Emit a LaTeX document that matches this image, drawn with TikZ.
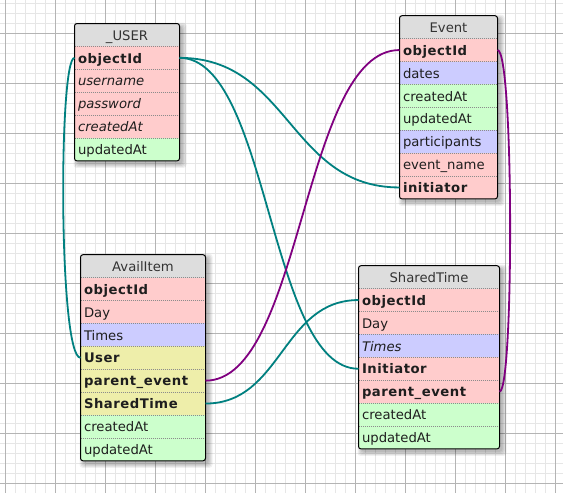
\documentclass[tikz,border=0pt]{standalone}
\usepackage{fontspec}
\setmainfont{DejaVu Sans}
\newfontface\bfface[LetterSpace=4]{DejaVu Sans Bold}
\usetikzlibrary{calc}
\definecolor{gminorc}{HTML}{E6E6E6}
\definecolor{gmajorc}{HTML}{B4B4B4}
\definecolor{hdrc}{HTML}{DDDDDD}
\definecolor{pkc}{HTML}{FFCCCC}
\definecolor{bluec}{HTML}{CCCCFF}
\definecolor{greenc}{HTML}{CCFFCC}
\definecolor{yelc}{HTML}{EEEEAA}
\definecolor{tealc}{HTML}{008080}
\definecolor{purpc}{HTML}{800080}
\definecolor{txtc}{HTML}{1E1E1E}
\newcommand\rh{22.9}
\newcommand\tabsetup[5]{\def\tn{#1}\def\tx{#2}\def\ty{#3}\def\tw{#4}\pgfmathsetmacro\ttw{#4-7}\pgfmathsetmacro\tbot{#3+(#5+1)*\rh}}
\newcommand\tabshadow{\foreach \r in {0,1,2,3,4}{\fill[black,opacity=0.06,rounded corners=3] ({\tx+3-\r},{\ty+3-\r}) rectangle ({\tx+\tw+3+\r},{\tbot+3+\r});}}
\newcommand\tabhead[1]{\node[hdr] (\tn-0) at (\tx,\ty) {#1};}
\newcommand\dbrow[3]{\node[rowbox,#2] (\tn-#1) at (\tx,{\ty+#1*\rh}) {#3};
  \draw[sepline] (\tn-#1.north west) -- (\tn-#1.north east);}
\newcommand\tabframe{\draw[line width=1pt,rounded corners=2.5,black] (\tx,\ty) rectangle (\tx+\tw,\tbot);}
\tikzset{
  rowbox/.style={anchor=north west, minimum height=\rh pt, text width=\ttw pt,
    inner xsep=3.5pt, inner ysep=0pt, align=left, text height=11.5pt, text depth=1.2pt,
    font=\fontsize{13.2}{15}\selectfont, text=txtc, outer sep=0pt},
  hdr/.style={rowbox, align=center, fill=hdrc, text=black!80},
  pk/.style={fill=pkc}, bl/.style={fill=bluec}, gr/.style={fill=greenc}, ye/.style={fill=yelc},
  bf/.style={font=\fontsize{13.2}{15}\bfface},
  it/.style={font=\fontsize{13.2}{15}\selectfont\itshape},
  sepline/.style={gray!90, line width=0.8pt, dash pattern=on 1pt off 1pt},
  gminor/.style={gminorc, line width=1pt},
  gmajor/.style={gmajorc, line width=1pt},
  tconn/.style={tealc, line width=1.8pt},
  pconn/.style={purpc, line width=1.8pt},
}
\begin{document}
\begin{tikzpicture}[x=1pt,y=-1pt]
\useasboundingbox (0,0) rectangle (563,493);
\fill[white] (0,0) rectangle (563,493);
% grid
\foreach \g in {5,15,...,555} \draw[gminor] (\g,0) -- (\g,493);
\foreach \g in {3,13,...,493} \draw[gminor] (0,\g) -- (563,\g);
\foreach \g in {5,55,...,555} \draw[gmajor] (\g,0) -- (\g,493);
\foreach \g in {33,83,...,483} \draw[gmajor] (0,\g) -- (563,\g);

% _USER
\tabsetup{U}{74.5}{23.5}{105}{5}
\tabshadow
\begin{scope}
\clip[rounded corners=2.5] (\tx,\ty) rectangle (\tx+\tw,\tbot);
\tabhead{\_USER}
\dbrow{1}{pk,bf}{objectId}
\dbrow{2}{pk,it}{username}
\dbrow{3}{pk,it}{password}
\dbrow{4}{pk,it}{createdAt}
\dbrow{5}{gr}{updatedAt}
\end{scope}
\tabframe

% Event
\tabsetup{E}{399.5}{15.7}{98}{7}
\tabshadow
\begin{scope}
\clip[rounded corners=2.5] (\tx,\ty) rectangle (\tx+\tw,\tbot);
\tabhead{Event}
\dbrow{1}{pk,bf}{objectId}
\dbrow{2}{bl}{dates}
\dbrow{3}{gr}{createdAt}
\dbrow{4}{gr}{updatedAt}
\dbrow{5}{bl}{participants}
\dbrow{6}{pk}{event\_name}
\dbrow{7}{pk,bf}{initiator}
\end{scope}
\tabframe

% AvailItem
\tabsetup{A}{80.5}{254.7}{125}{8}
\tabshadow
\begin{scope}
\clip[rounded corners=2.5] (\tx,\ty) rectangle (\tx+\tw,\tbot);
\tabhead{AvailItem}
\dbrow{1}{pk,bf}{objectId}
\dbrow{2}{pk}{Day}
\dbrow{3}{bl}{Times}
\dbrow{4}{ye,bf}{User}
\dbrow{5}{ye,bf}{parent\_event}
\dbrow{6}{ye,bf}{SharedTime}
\dbrow{7}{gr}{createdAt}
\dbrow{8}{gr}{updatedAt}
\end{scope}
\tabframe

% SharedTime
\tabsetup{S}{358.5}{265.7}{141}{7}
\tabshadow
\begin{scope}
\clip[rounded corners=2.5] (\tx,\ty) rectangle (\tx+\tw,\tbot);
\tabhead{SharedTime}
\dbrow{1}{pk,bf}{objectId}
\dbrow{2}{pk}{Day}
\dbrow{3}{bl,it}{Times}
\dbrow{4}{pk,bf}{Initiator}
\dbrow{5}{pk,bf}{parent\_event}
\dbrow{6}{gr}{createdAt}
\dbrow{7}{gr}{updatedAt}
\end{scope}
\tabframe

% connectors
\draw[tconn] let \p1=(U-1.east), \p2=(E-7.west), \n1={(\x1+\x2)/2} in (\p1) .. controls (\n1,\y1) and (\n1,\y2) .. (\p2);
\draw[tconn] let \p1=(U-1.east), \p2=(S-4.west), \n1={(\x1+\x2)/2} in (\p1) .. controls (\n1,\y1) and (\n1,\y2) .. (\p2);
\draw[tconn] (U-1.west) .. controls +(-16,0) and +(-22,0) .. (A-4.west);
\draw[pconn] let \p1=(A-5.east), \p2=(E-1.west), \n1={(\x1+\x2)/2} in (\p1) .. controls (\n1,\y1) and (\n1,\y2) .. (\p2);
\draw[tconn] let \p1=(A-6.east), \p2=(S-1.west), \n1={(\x1+\x2)/2} in (\p1) .. controls (\n1,\y1) and (\n1,\y2) .. (\p2);
\draw[pconn] (E-1.east) .. controls +(16.5,0) and +(14.5,0) .. (S-5.east);
\end{tikzpicture}
\end{document}
